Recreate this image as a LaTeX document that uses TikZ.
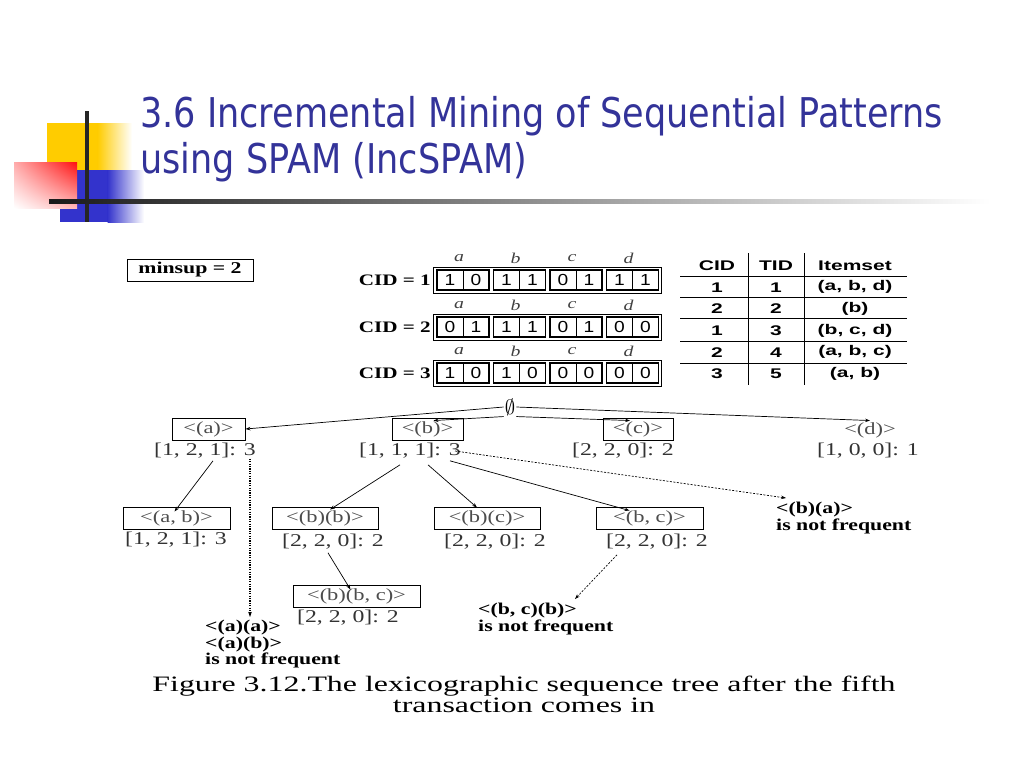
\documentclass[tikz,border=0pt]{standalone}
\usepackage{fontspec}
\setmainfont{Liberation Serif}
\newfontfamily\titlefont[FakeStretch=0.855]{DejaVu Sans}
\newfontfamily\figserif[FakeStretch=1.32]{Liberation Serif}
\newfontfamily\capserif[FakeStretch=1.45]{Liberation Serif}
\newfontfamily\figsans[FakeStretch=1.2]{Liberation Sans}
\newfontfamily\tabsans[FakeStretch=1.5]{Liberation Sans}
\definecolor{titleblue}{HTML}{333399}
\definecolor{slideyellow}{HTML}{FFCC00}
\definecolor{slidered}{HTML}{FF1010}
\definecolor{slideblue}{HTML}{3333CC}
\usetikzlibrary{positioning, arrows.meta, calc, shapes.misc, shadings}
\tikzset{
	titletext/.style={
			font=\titlefont\fontsize{41}{44}\selectfont,
			text=titleblue,
			inner sep=0pt
		},
	seqnode/.style={
			draw=black,
			line width=0.9pt,
			text=black!70,
			font=\figserif\fontsize{17}{17}\selectfont,
			minimum height=22pt,
			inner sep=0pt
		},
	seqnodefree/.style={
			seqnode,
			draw=none
		},
	supnode/.style={
			font=\figserif\fontsize{18}{18}\selectfont,
			text=black!80,
			inner sep=0pt
		},
	notenode/.style={
			font=\figserif\bfseries\fontsize{16.5}{16.5}\selectfont,
			align=left,
			inner sep=0pt
		},
	cidlabel/.style={
			font=\figserif\bfseries\fontsize{16}{16}\selectfont,
			inner sep=0pt
		},
	itemletter/.style={
			font=\figserif\itshape\fontsize{15}{15}\selectfont,
			text=black!75,
			inner sep=0pt
		},
	bitnode/.style={
			font=\figsans\fontsize{16}{16}\selectfont,
			inner sep=0pt
		},
	tabnode/.style={
			font=\tabsans\bfseries\fontsize{14}{14}\selectfont,
			inner sep=0pt
		},
	treearrow/.style={
			line width=0.7pt,
			-{Stealth[length=5pt,width=3.5pt]}
		},
	dasharrow/.style={
			treearrow,
			dash pattern=on 2pt off 1.5pt
		},
	dotarrow/.style={
			treearrow,
			line width=1.1pt,
			dash pattern=on 1.2pt off 1.2pt
		}
}

\begin{document}
\begin{tikzpicture}[x=1pt, y=-1pt]
\useasboundingbox (0,0) rectangle (1024,768);

% slide decoration
\fill[slideyellow] (47,123) rectangle (98,170);
\shade[left color=slideyellow, right color=white] (97.5,123) rectangle (132,170);
\fill[slideblue] (60,170) rectangle (108,222);
\shade[left color=slideblue, right color=white] (107.5,170) rectangle (144,222);
\shade[upper right=slidered, upper left=slidered!35, lower right=slidered!30, lower left=white] (14,162) rectangle (77,208);
\draw[line width=4pt, black!85] (87,111) -- (87,222);
\shade[left color=black!90, right color=white] (49,199) rectangle (990,203);

% title
\node[titletext, anchor=base west] (title1) at (140,127) {3.6 Incremental Mining of Sequential Patterns};
\node[titletext, anchor=base west] (title2) at (140,173) {using SPAM (IncSPAM)};

% minsup
\node[draw, line width=0.9pt, minimum width=126pt, minimum height=22pt, inner sep=0pt,
      font=\figserif\bfseries\fontsize{16.5}{16.5}\selectfont] (minsup) at (190,270) {minsup = 2};

% bitmaps
\foreach \row/\yy/\bits in {1/280/{1,0,1,1,0,1,1,1},2/327/{0,1,1,1,0,1,0,0},3/373/{1,0,1,0,0,0,0,0}}{
  \node[cidlabel, anchor=east] (cid\row) at (431,\yy) {CID = \row};
  \draw[line width=0.7pt] (433,\yy-13) rectangle (661,\yy+13);
  \foreach \g/\lt in {0/a,1/b,2/c,3/d}{
    \draw[line width=1.8pt] ({437+56.5*\g},\yy-10) rectangle ({489+56.5*\g},\yy+10);
    \draw[line width=0.7pt] ({463+56.5*\g},\yy-10) -- ({463+56.5*\g},\yy+10);
    \node[itemletter] (let\row\lt) at ({459+56.5*\g},\yy-22) {\lt};
  }
  \foreach \b [count=\k from 0] in \bits{
    \node[bitnode] (bit\row-\k) at ({450+56.5*floor(\k/2)+26*mod(\k,2)},\yy) {\b};
  }
}

% table
\node[tabnode] (hcid) at (717,266) {CID};
\node[tabnode] (htid) at (776,266) {TID};
\node[tabnode] (hset) at (855,266) {Itemset};
\foreach \c/\t/\s [count=\r] in {1/1/{(a, b, d)},2/2/{(b)},1/3/{(b, c, d)},2/4/{(a, b, c)},3/5/{(a, b)}}{
  \node[tabnode] (tc\r) at (717,{265.5+21.7*\r}) {\c};
  \node[tabnode] (tt\r) at (776,{265.5+21.7*\r}) {\t};
  \node[tabnode] (ts\r) at (855,{265.5+21.7*\r}) {\s};
}
\foreach \yy in {276,297,318,341,363}{
  \draw[line width=0.8pt] (680,\yy) -- (907,\yy);
}
\draw[line width=0.8pt] (748,253) -- (748,385);
\draw[line width=0.8pt] (804,253) -- (804,385);

% tree, first level
\node[inner sep=1pt, font=\fontsize{22}{22}\selectfont] (root) at (510,407) {$\emptyset$};
\node[seqnode, minimum width=73pt] (a) at (208.5,429) {<(a)>};
\node[seqnode, minimum width=71pt] (b) at (427.5,429) {<(b)>};
\node[seqnode, minimum width=70pt] (c) at (638,429) {<(c)>};
\node[seqnodefree] (d) at (870,430) {<(d)>};
\node[supnode] (sa) at (205,451) {[1, 2, 1]: 3};
\node[supnode] (sb) at (410,451) {[1, 1, 1]: 3};
\node[supnode] (sc) at (623,451) {[2, 2, 0]: 2};
\node[supnode] (sd) at (868,451) {[1, 0, 0]: 1};

\draw[treearrow] (root.west) -- (a.east);
\draw[treearrow] (root.south west) -- ([xshift=6pt,yshift=-3pt]b.north);
\draw[treearrow] (root.south east) -- ([xshift=-8pt,yshift=-3pt]c.north);
\draw[treearrow] (root.east) -- ([yshift=-2pt]d.north);

% tree, second level
\node[seqnode, minimum width=107pt] (ab) at (176.5,518) {<(a, b)>};
\node[seqnode, minimum width=106pt] (bb) at (325,518) {<(b)(b)>};
\node[seqnode, minimum width=106pt] (bc) at (487,518) {<(b)(c)>};
\node[seqnode, minimum width=107pt] (bcs) at (649.5,518) {<(b, c)>};
\node[supnode] (sab) at (176,540) {[1, 2, 1]: 3};
\node[supnode] (sbb) at (333,542) {[2, 2, 0]: 2};
\node[supnode] (sbc) at (495,542) {[2, 2, 0]: 2};
\node[supnode] (sbcs) at (657,542) {[2, 2, 0]: 2};

\draw[treearrow] ([xshift=8pt,yshift=-2pt]sa.south) -- ([xshift=-2pt,yshift=-5pt]ab.north);
\draw[treearrow] ([xshift=-10pt,yshift=-6pt]sb.south) -- ([xshift=5pt,yshift=-3pt]bb.north);
\draw[treearrow] ([xshift=18pt,yshift=-6pt]sb.south) -- ([xshift=-10pt,yshift=-1pt]bc.north);
\draw[treearrow] ([xshift=40pt,yshift=-2pt]sb.south) -- ([xshift=-20pt,yshift=-4pt]bcs.north);

% third level
\node[seqnode, minimum width=127pt] (bbc) at (356.5,596) {<(b)(b, c)>};
\node[supnode] (sbbc) at (348,618) {[2, 2, 0]: 2};
\draw[treearrow] ([xshift=-5pt,yshift=-3pt]sbb.south) -- ([xshift=-6pt,yshift=-5pt]bbc.north);

% infrequent candidates
\node[notenode, anchor=north west] (nba) at (776,502) {<(b)(a)>\\is not frequent};
\node[notenode, anchor=north west] (naa) at (205,620) {<(a)(a)>\\<(a)(b)>\\is not frequent};
\node[notenode, anchor=north west] (nbcb) at (478,603) {<(b, c)(b)>\\is not frequent};

\draw[dasharrow] ([xshift=-6pt]sb.east) -- ([xshift=10pt,yshift=4pt]nba.north west);
\draw[dotarrow] ([xshift=45pt]naa.north west |- sa.south) -- ([xshift=45pt,yshift=3pt]naa.north west);
\draw[dasharrow] ([xshift=-40pt,yshift=-5pt]sbcs.south) -- ([xshift=97pt,yshift=4pt]nbcb.north west);

% caption
\node[font=\capserif\fontsize{22}{22}\selectfont, align=center, inner sep=0pt] (caption) at (524,694)
  {Figure 3.12.The lexicographic sequence tree after the fifth\\[-1pt]transaction comes in};

\end{tikzpicture}
\end{document}
